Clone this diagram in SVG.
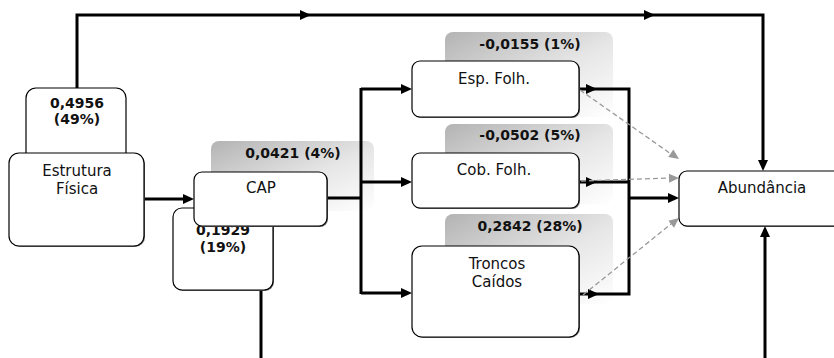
<svg xmlns="http://www.w3.org/2000/svg" xmlns:xlink="http://www.w3.org/1999/xlink" width="834" height="358" viewBox="0 0 834 358">
<style>
.box{fill:#fff;stroke:#000;stroke-width:1.2}
.sh{fill:#666}
.lbl{font-family:"DejaVu Sans",Verdana,sans-serif;font-size:15px;fill:#111;text-anchor:middle}
.num{font-family:"DejaVu Sans",Verdana,sans-serif;font-size:14px;font-weight:bold;fill:#111;text-anchor:middle}
.thick{fill:none;stroke:#000;stroke-width:3}
.dash{fill:none;stroke:#999;stroke-width:1.3;stroke-dasharray:5,3}
.grad{fill:url(#g)}
</style>
<defs>
<linearGradient id="g" x1="0" y1="0" x2="1" y2="1">
<stop offset="0" stop-color="#b3b3b3"/>
<stop offset="0.55" stop-color="#e6e6e6"/>
<stop offset="1" stop-color="#ffffff"/>
</linearGradient>
<path id="ah" d="M0,0 L-11,-5 L-11,5 Z" fill="#000"/>
<path id="ahg" d="M0,0 L-10,-4.5 L-10,4.5 Z" fill="#999"/>
</defs>

<g id="bg-labels">
<rect class="grad" x="211" y="141" width="163" height="70" rx="8"/>
<rect class="grad" x="445" y="32" width="168" height="85" rx="8"/>
<rect class="grad" x="445" y="124" width="168" height="80" rx="8"/>
<rect class="grad" x="445" y="214" width="168" height="90" rx="8"/>
</g>

<g id="connectors">
<path class="thick" d="M77,88 V15 H763 V160"/>
<use xlink:href="#ah" transform="translate(311,15)"/>
<use xlink:href="#ah" transform="translate(655,15)"/>
<use xlink:href="#ah" transform="translate(763,171) rotate(90)"/>
<path class="thick" d="M261,290 V360"/>
<path class="thick" d="M765,360 V236"/>
<use xlink:href="#ah" transform="translate(765,226) rotate(-90)"/>
<path class="thick" d="M144,199 H184"/>
<use xlink:href="#ah" transform="translate(194,199)"/>
<path class="thick" d="M327,198 H361 M361,88 V294 M361,89 H402 M361,182 H402 M361,293 H402"/>
<use xlink:href="#ah" transform="translate(412,89)"/>
<use xlink:href="#ah" transform="translate(412,182)"/>
<use xlink:href="#ah" transform="translate(412,293)"/>
<path class="thick" d="M579,89 H629 V294 H579 M579,182 H629 M629,198 H669"/>
<use xlink:href="#ah" transform="translate(597,89)"/>
<use xlink:href="#ah" transform="translate(597,182)"/>
<use xlink:href="#ah" transform="translate(599,294)"/>
<use xlink:href="#ah" transform="translate(679,198)"/>
<path class="dash" d="M580,90 L671,154"/>
<use xlink:href="#ahg" transform="translate(679,159) rotate(35)"/>
<path class="dash" d="M581,181 L670,178"/>
<use xlink:href="#ahg" transform="translate(679,178) rotate(-1.5)"/>
<path class="dash" d="M583,295 L671,224"/>
<use xlink:href="#ahg" transform="translate(679,218) rotate(-39)"/>
</g>

<g id="n-4956">
<rect class="box" x="26" y="88" width="100" height="80" rx="10"/>
<text class="num" x="77" y="108">0,4956</text>
<text class="num" x="77" y="124">(49%)</text>
</g>
<g id="n-estrutura">
<rect class="sh" x="10" y="154" width="135" height="93" rx="10"/>
<rect class="box" x="9" y="153" width="135" height="93" rx="10"/>
<text class="lbl" x="77" y="176">Estrutura</text>
<text class="lbl" x="77" y="194">Física</text>
</g>
<g id="n-1929">
<rect class="sh" x="174" y="209" width="100" height="82" rx="9"/>
<rect class="box" x="173" y="208" width="100" height="82" rx="9"/>
<text class="num" x="223" y="235">0,1929</text>
<text class="num" x="223" y="252">(19%)</text>
</g>
<g id="n-cap">
<rect class="sh" x="195" y="173" width="133" height="54" rx="8"/>
<rect class="box" x="194" y="172" width="133" height="54" rx="8"/>
<text class="lbl" x="261" y="193">CAP</text>
</g>
<text class="num" x="293" y="158">0,0421 (4%)</text>

<g id="n-esp">
<rect class="sh" x="413" y="62" width="167" height="56" rx="8"/>
<rect class="box" x="412" y="61" width="167" height="56" rx="8"/>
<text class="lbl" x="494" y="84">Esp. Folh.</text>
</g>
<text class="num" x="530" y="49">-0,0155 (1%)</text>

<g id="n-cob">
<rect class="sh" x="413" y="154" width="167" height="55" rx="8"/>
<rect class="box" x="412" y="153" width="167" height="55" rx="8"/>
<text class="lbl" x="494" y="175">Cob. Folh.</text>
</g>
<text class="num" x="530" y="140">-0,0502 (5%)</text>

<g id="n-troncos">
<rect class="sh" x="413" y="247" width="167" height="91" rx="10"/>
<rect class="box" x="412" y="246" width="167" height="91" rx="10"/>
<text class="lbl" x="497" y="269">Troncos</text>
<text class="lbl" x="497" y="287">Caídos</text>
</g>
<text class="num" x="530" y="231">0,2842 (28%)</text>

<g id="n-abund">
<rect class="sh" x="680" y="172" width="175" height="55" rx="8"/>
<rect class="box" x="679" y="171" width="175" height="55" rx="8"/>
<text class="lbl" x="762" y="193">Abundância</text>
</g>
</svg>
